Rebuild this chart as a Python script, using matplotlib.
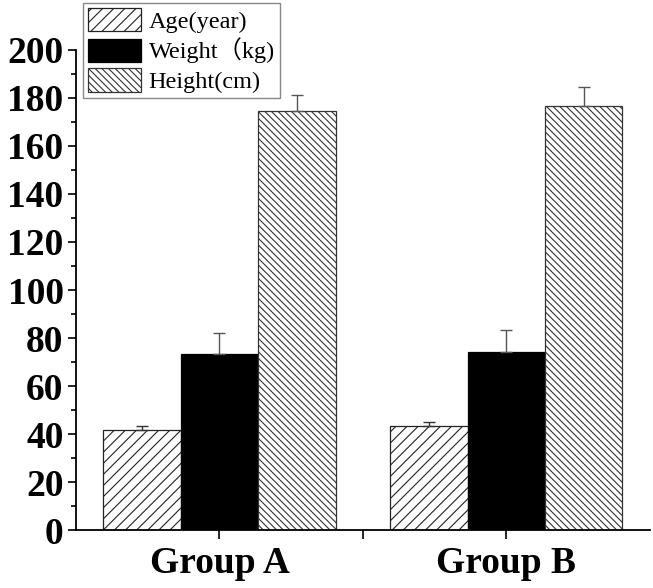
import matplotlib
matplotlib.use("Agg")
import matplotlib.pyplot as plt
import numpy as np
from matplotlib.ticker import MultipleLocator

# data
groups = ["Group A", "Group B"]
series = ["Age(year)", "Weight\uff08kg)", "Height(cm)"]
age = [41.7, 43.3]
age_err = [1.7, 1.7]
weight = [73.3, 74.3]
weight_err = [8.7, 9.0]
height = [174.4, 176.7]
height_err = [6.9, 7.8]

plt.rcParams['hatch.linewidth'] = 0.8
serif = ['Liberation Serif', 'Noto Sans CJK SC', 'DejaVu Sans']

fig = plt.figure(figsize=(6.53, 5.88), dpi=100)
ax = fig.add_axes([0.1164, 0.0986, 0.8786, 0.8164])

x = np.arange(1, len(groups) + 1)
w = 0.27

b1 = ax.bar(x - w, age, w, color='white', edgecolor='#222222', linewidth=0.9,
            hatch='///', label=series[0])
b2 = ax.bar(x, weight, w, color='black', edgecolor='black', linewidth=0.9,
            label=series[1])
b3 = ax.bar(x + w, height, w, color='white', edgecolor='#333333', linewidth=0.9,
            hatch='\\\\\\\\\\', label=series[2])

errkw = dict(fmt='none', capsize=4.5, elinewidth=1.0, capthick=1.0)
ax.errorbar(x - w, age, yerr=[[0] * 2, age_err], ecolor='#333333', **errkw)
ax.errorbar(x, weight, yerr=[[0] * 2, weight_err], ecolor='#555555', **errkw)
ax.errorbar(x + w, height, yerr=[[0] * 2, height_err], ecolor='#555555', **errkw)

ax.set_xlim(0.5, 2.5)
ax.set_ylim(0, 200)
ax.spines['top'].set_visible(False)
ax.spines['right'].set_visible(False)
ax.spines['left'].set_linewidth(1.3)
ax.spines['bottom'].set_linewidth(1.3)

ax.yaxis.set_major_locator(MultipleLocator(20))
ax.yaxis.set_minor_locator(MultipleLocator(10))
ax.set_xticks([1, 2])
ax.set_xticklabels(groups)
ax.set_xticks([1.5], minor=True)
ax.tick_params(axis='y', which='major', direction='out', length=6, width=1.2, pad=3)
ax.tick_params(axis='x', which='major', direction='out', length=6.5, width=1.2, pad=5)
ax.tick_params(axis='y', which='minor', direction='out', length=3.5, width=1.2)
ax.tick_params(axis='x', which='minor', direction='out', length=6.5, width=1.2)

for lab in ax.get_yticklabels() + ax.get_xticklabels():
    lab.set_fontfamily(serif)
    lab.set_fontweight('bold')
    lab.set_fontsize(27)

leg = ax.legend(handles=[b1, b2, b3], loc='upper left',
                bbox_to_anchor=(83 / 653, 1 - 3 / 588), bbox_transform=fig.transFigure,
                prop={'family': serif, 'size': 17.5}, frameon=True, fancybox=False,
                edgecolor='#888888', framealpha=1, borderpad=0.2,
                labelspacing=0.2, handlelength=2.2, handleheight=1.1,
                handletextpad=0.3, borderaxespad=0)
leg.get_frame().set_linewidth(1.0)

fig.savefig("out.png", dpi=100)
